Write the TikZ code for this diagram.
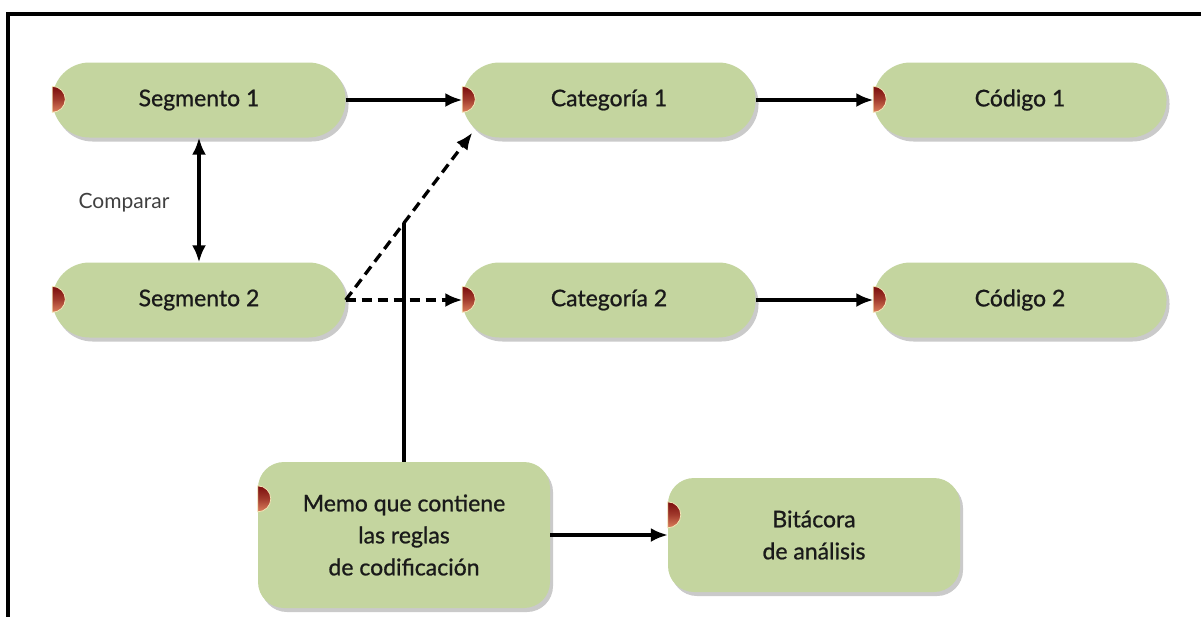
\documentclass[tikz,border=0pt]{standalone}
\usepackage{fontspec}
\setmainfont{Lato}
\newfontfamily\boxfont{Lato}[FakeBold=0.9]
\usetikzlibrary{shadows,arrows.meta,intersections,calc}
\definecolor{boxgreen}{HTML}{C4D59F}
\definecolor{txt}{HTML}{1A1A1A}
\definecolor{mkdark}{HTML}{7B0D0D}
\definecolor{mklight}{HTML}{DC7F5C}
\definecolor{mkrim}{HTML}{F3E7B8}
\begin{document}
\begin{tikzpicture}[x=1pt,y=-1pt,
  boxbase/.style={draw=none, fill=boxgreen, inner sep=0pt, text=txt,
    font=\boxfont\fontsize{23}{32}\selectfont, align=center,
    drop shadow={shadow xshift=3pt, shadow yshift=-4pt, opacity=0.35, fill=black!60}},
  pill/.style={boxbase, rounded corners=37pt, minimum width=293pt, minimum height=75pt},
  bigbox/.style={boxbase, rounded corners=26pt, minimum width=292pt},
  conn/.style={line width=3.3pt, -{Latex[length=17pt,width=14pt]}},
  dconn/.style={conn, dash pattern=on 10pt off 6pt},
  plain/.style={line width=3.3pt},
  lbl/.style={text=black!75, font=\fontsize{21}{24}\selectfont}
]
\useasboundingbox (0,0) rectangle (1201,616);
\draw[line width=3.4pt] (8,620) -- (8,14) -- (1205,14);

\node[pill] (s1) at (199,100) {Segmento 1};
\node[pill] (c1) at (609,100) {Categoría 1};
\node[pill] (k1) at (1020,100) {Código 1};
\node[pill] (s2) at (199,300) {Segmento 2};
\node[pill] (c2) at (609,300) {Categoría 2};
\node[pill] (k2) at (1020,300) {Código 2};
\node[bigbox, minimum height=146pt] (memo) at (404,535) {Memo que contiene\\las reglas\\de codificación};
\node[bigbox, minimum height=114pt] (bit) at (814,535) {Bitácora\\de análisis};

\foreach \n in {s1,s2,c1,c2,k1,k2,memo,bit}{
  \shade[top color=mkdark, bottom color=mklight, middle color=mkdark!60!mklight, draw=mkrim, line width=0.8pt]
    ($(\n.north west)+(0,37)$) ++(0pt,-13pt) arc[start angle=-90, end angle=90, radius=13pt] -- cycle;
}

\node[lbl] (cmp) at (124,203) {Comparar};

\coordinate (c1in) at ($(c1.south west)+(10,-5)$);

\draw[conn] (s1.east) -- (c1.west);
\draw[conn] (c1.east) -- (k1.west);
\draw[conn] (c2.east) -- (k2.west);
\draw[conn] (memo.east) -- (bit.west);
\draw[line width=3.3pt, {Latex[length=17pt,width=14pt]}-{Latex[length=17pt,width=14pt]}] (s1.south) -- (s2.north);
\draw[dconn, name path=dashline] (s2.east) -- (c1in);
\draw[dconn] (s2.east) -- (c2.west);
\path[name path=vline] (memo.north) -- ++(0,-300);
\path[name intersections={of=dashline and vline, by=meet}];
\draw[plain] (memo.north) -- (memo.north |- meet);
\end{tikzpicture}
\end{document}
